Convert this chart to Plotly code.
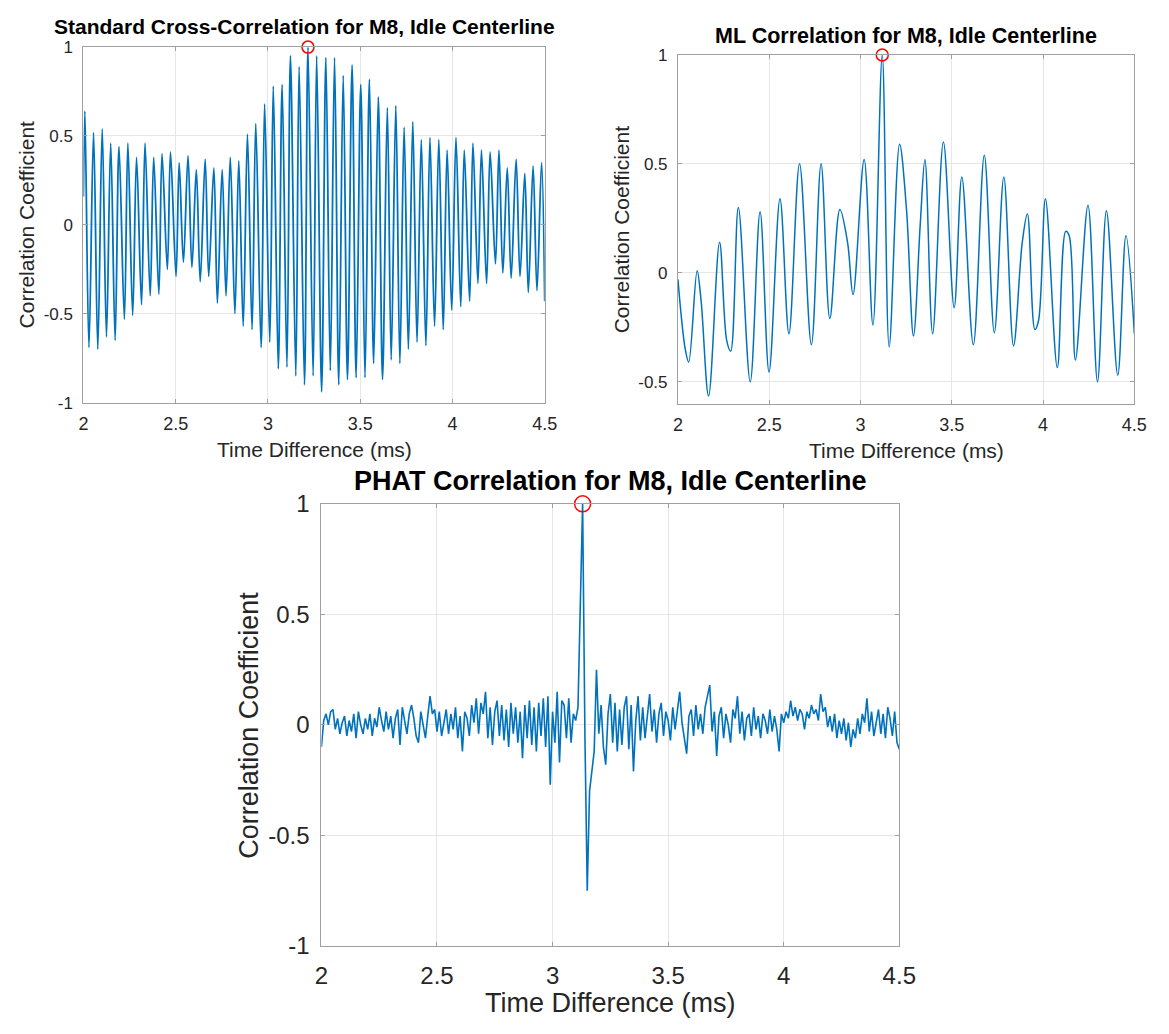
import plotly.graph_objects as go

# ---------------- Standard cross-correlation (top left) ----------------
# local maxima of the oscillation, time in ms
xc_peak_t = [2.008, 2.055, 2.102, 2.148, 2.193, 2.241, 2.288, 2.334, 2.381, 2.426,
             2.472, 2.519, 2.567, 2.612, 2.660, 2.707, 2.752, 2.796, 2.842, 2.889,
             2.934, 2.982, 3.029, 3.077, 3.122, 3.169, 3.217, 3.264, 3.314, 3.361,
             3.408, 3.456, 3.503, 3.550, 3.598, 3.647, 3.693, 3.738, 3.785, 3.831,
             3.878, 3.926, 3.971, 4.019, 4.064, 4.111, 4.157, 4.204, 4.252, 4.297,
             4.345, 4.392, 4.437, 4.483]
xc_peak_r = [0.64, 0.52, 0.54, 0.46, 0.44, 0.46, 0.38, 0.46, 0.38, 0.40,
             0.41, 0.35, 0.39, 0.31, 0.37, 0.32, 0.31, 0.38, 0.36, 0.51,
             0.57, 0.68, 0.78, 0.79, 0.95, 0.89, 1.00, 0.95, 0.94, 0.94,
             0.84, 0.90, 0.79, 0.82, 0.72, 0.66, 0.67, 0.55, 0.58, 0.48,
             0.49, 0.48, 0.42, 0.49, 0.42, 0.46, 0.42, 0.41, 0.42, 0.32,
             0.37, 0.29, 0.33, 0.35]
# local minima
xc_trough_t = [2.030, 2.078, 2.125, 2.172, 2.222, 2.267, 2.315, 2.362, 2.409, 2.455,
               2.502, 2.542, 2.588, 2.633, 2.679, 2.726, 2.773, 2.821, 2.866, 2.914,
               2.963, 3.010, 3.056, 3.103, 3.151, 3.198, 3.245, 3.291, 3.338, 3.384,
               3.431, 3.478, 3.526, 3.573, 3.621, 3.668, 3.715, 3.761, 3.808, 3.856,
               3.903, 3.950, 3.996, 4.045, 4.093, 4.138, 4.185, 4.233, 4.273, 4.318,
               4.366, 4.411, 4.458]
xc_trough_r = [-0.69, -0.70, -0.63, -0.65, -0.53, -0.51, -0.45, -0.40, -0.39, -0.25,
               -0.29, -0.21, -0.24, -0.32, -0.29, -0.44, -0.40, -0.50, -0.57, -0.59,
               -0.69, -0.66, -0.81, -0.80, -0.85, -0.90, -0.85, -0.94, -0.82, -0.90,
               -0.87, -0.86, -0.86, -0.78, -0.87, -0.76, -0.78, -0.70, -0.66, -0.68,
               -0.57, -0.59, -0.48, -0.46, -0.43, -0.33, -0.33, -0.22, -0.27, -0.30,
               -0.29, -0.38, -0.37]
# values at the window edges
xc_edge_t = [2.000, 4.500]
xc_edge_r = [0.16, -0.43]

# ---------------- ML correlation (top right) ----------------
ml_t = [2.000, 2.040, 2.059, 2.105, 2.127, 2.168, 2.228, 2.267, 2.289, 2.331,
        2.396, 2.450, 2.499, 2.559, 2.608, 2.666, 2.731, 2.784, 2.832, 2.887,
        2.929, 2.959, 3.020, 3.068, 3.119, 3.157, 3.214, 3.252, 3.290, 3.327,
        3.353, 3.395, 3.454, 3.513, 3.555, 3.618, 3.678, 3.733, 3.785, 3.838,
        3.886, 3.914, 3.955, 3.975, 4.013, 4.078, 4.124, 4.143, 4.177, 4.246,
        4.298, 4.347, 4.409, 4.454, 4.500]
ml_r = [-0.03, -0.35, -0.41, 0.01, -0.13, -0.565, 0.14, -0.31, -0.36, 0.30,
        -0.50, 0.28, -0.455, 0.34, -0.28, 0.50, -0.33, 0.50, -0.21, 0.29,
        0.14, -0.10, 0.52, -0.24, 1.00, -0.34, 0.59, 0.29, -0.29, 0.22,
        0.52, -0.28, 0.60, -0.16, 0.44, -0.33, 0.54, -0.275, 0.44, -0.335,
        0.14, 0.27, -0.26, -0.22, 0.34, -0.435, 0.19, 0.17, -0.40, 0.31,
        -0.50, 0.285, -0.47, 0.17, -0.28]

# ---------------- PHAT correlation (bottom) ----------------
# one value every 0.01 ms from 2.00 to 4.50 ms
phat_t0 = 2.0
phat_dt = 0.01
phat_r = [
    -0.10, 0.02, 0.05, 0.00, 0.06, 0.07, -0.02, 0.03, -0.04, 0.01,
    0.04, -0.05, 0.02, -0.03, 0.05, -0.06, 0.06, 0.00, -0.04, 0.03,
    -0.02, 0.05, -0.05, 0.03, -0.01, 0.08, 0.02, -0.03, 0.06, -0.02,
    0.04, -0.06, 0.03, 0.07, -0.09, 0.08, 0.02, -0.04, 0.05, 0.09,
    0.03, -0.05, -0.08, 0.06, 0.00, -0.06, 0.04, 0.13, 0.05, 0.07,
    -0.03, 0.06, -0.05, 0.02, 0.07, -0.04, 0.05, -0.02, 0.08, -0.06,
    0.04, -0.12, 0.06, 0.03, -0.05, 0.09, 0.01, 0.12, -0.04, 0.10,
    0.05, 0.15, -0.06, 0.08, -0.09, 0.06, 0.11, -0.05, 0.09, -0.07,
    0.07, -0.10, 0.10, -0.04, 0.08, -0.08, 0.06, -0.15, 0.09, -0.06,
    0.11, -0.09, 0.08, -0.12, 0.10, -0.05, 0.12, -0.10, 0.13, -0.27,
    0.06, -0.08, 0.15, -0.17, 0.11, 0.09, -0.06, 0.12, -0.08, 0.05,
    0.02, 0.08, 0.55, 1.00, -0.05, -0.75, -0.30, -0.22, -0.12, 0.25,
    -0.04, 0.09, -0.10, -0.18, 0.05, 0.14, -0.08, 0.10, -0.12, 0.07,
    -0.09, 0.08, 0.13, -0.11, 0.09, -0.21, 0.02, 0.13, -0.07, 0.08,
    -0.06, 0.04, 0.14, -0.03, 0.07, -0.08, 0.05, 0.10, -0.05, 0.06,
    0.02, -0.07, 0.08, -0.02, 0.06, 0.15, 0.01, -0.06, -0.13, 0.04,
    0.07, -0.05, 0.09, -0.02, 0.05, -0.04, 0.08, 0.13, 0.18, -0.03,
    0.06, -0.14, 0.04, 0.08, -0.06, 0.05, 0.00, -0.08, 0.07, 0.03,
    0.13, -0.04, 0.06, -0.07, 0.03, 0.05, -0.05, 0.08, -0.02, 0.04,
    -0.06, 0.05, 0.02, -0.04, 0.07, -0.03, 0.04, -0.02, -0.12, 0.05,
    0.01, 0.06, 0.03, 0.11, 0.04, 0.08, 0.02, 0.07, 0.05, -0.02,
    0.06, 0.03, 0.09, 0.05, 0.07, 0.02, 0.14, 0.06, 0.08, -0.01,
    0.04, -0.03, 0.05, -0.06, 0.02, -0.04, 0.03, -0.07, 0.01, -0.10,
    -0.02, -0.06, 0.03, -0.04, 0.05, 0.01, 0.12, -0.03, 0.06, -0.05,
    0.02, 0.07, -0.04, 0.05, -0.06, 0.08, 0.03, -0.05, 0.06, -0.08,
    -0.11,
]

x_tick_vals = [2, 2.5, 3, 3.5, 4, 4.5]
x_tick_text = ["2", "2.5", "3", "3.5", "4", "4.5"]
y_tick_vals = [-1, -0.5, 0, 0.5, 1]
y_tick_text = ["-1", "-0.5", "0", "0.5", "1"]
ml_y_tick_vals = [-0.5, 0, 0.5, 1]
ml_y_tick_text = ["-0.5", "0", "0.5", "1"]

titles = ["Standard Cross-Correlation for M8, Idle Centerline",
          "ML Correlation for M8, Idle Centerline",
          "PHAT Correlation for M8, Idle Centerline"]
x_label = "Time Difference (ms)"
y_label = "Correlation Coefficient"

# ---------------- assemble series ----------------
xc_pts = sorted(zip(xc_peak_t + xc_trough_t + xc_edge_t,
                    xc_peak_r + xc_trough_r + xc_edge_r))
xc_t = [p[0] for p in xc_pts]
xc_r = [p[1] for p in xc_pts]
phat_t = [round(phat_t0 + phat_dt * i, 3) for i in range(len(phat_r))]


def peak_of(ts, rs):
    i = max(range(len(rs)), key=lambda k: rs[k])
    return ts[i], rs[i]


LINE = "#0072BD"
FONT = "Liberation Sans, Arial, Helvetica, sans-serif"
W, H = 1169, 1034

fig = go.Figure()

fig.add_trace(go.Scatter(x=xc_t, y=xc_r, mode="lines", xaxis="x", yaxis="y",
                         line=dict(color=LINE, width=1.8, shape="spline", smoothing=1.0)))
fig.add_trace(go.Scatter(x=ml_t, y=ml_r, mode="lines", xaxis="x2", yaxis="y2",
                         line=dict(color=LINE, width=1.5, shape="spline", smoothing=1.0)))
fig.add_trace(go.Scatter(x=phat_t, y=phat_r, mode="lines", xaxis="x3", yaxis="y3",
                         line=dict(color=LINE, width=1.6)))

# red circles at the maximum of each correlation
for (ts, rs), ax, size in [((xc_t, xc_r), "", 12), ((ml_t, ml_r), "2", 12),
                           ((phat_t, phat_r), "3", 16)]:
    pt, pr = peak_of(ts, rs)
    fig.add_trace(go.Scatter(x=[pt], y=[pr], mode="markers", cliponaxis=False,
                             xaxis="x" + ax, yaxis="y" + ax,
                             marker=dict(symbol="circle-open", size=size, color="#FF0000",
                                         line=dict(width=1.5, color="#FF0000"))))


def px_x(a, b):
    return [a / W, b / W]


def px_y(top, bottom):
    return [1 - bottom / H, 1 - top / H]


def axis(domain, anchor, vals, text, rng, fsize, standoff):
    return dict(domain=domain, anchor=anchor, range=rng, tickvals=vals, ticktext=text,
                showgrid=True, gridcolor="#e6e6e6", gridwidth=1, zeroline=False,
                showline=True, linecolor="#a0a0a0", linewidth=1, mirror="ticks",
                ticks="inside", ticklen=4, tickwidth=1, tickcolor="#a0a0a0",
                ticklabelstandoff=standoff,
                tickfont=dict(family=FONT, size=fsize, color="#262626"), fixedrange=True)


d1x, d1y = px_x(78, 549), px_y(34, 399)
d2x, d2y = px_x(685, 1151), px_y(42, 400)
d3x, d3y = px_x(321, 911), px_y(503, 957)

fig.update_layout(
    width=W, height=H, margin=dict(l=0, r=0, t=0, b=0),
    paper_bgcolor="white", plot_bgcolor="white", showlegend=False,
    xaxis=axis(d1x, "y", x_tick_vals, x_tick_text, [2, 4.5], 18, 5),
    yaxis=axis(d1y, "x", y_tick_vals, y_tick_text, [-1, 1], 17, 6),
    xaxis2=axis(d2x, "y2", x_tick_vals, x_tick_text, [2, 4.5], 18, 5),
    yaxis2=axis(d2y, "x2", ml_y_tick_vals, ml_y_tick_text, [-0.6, 1], 17, 6),
    xaxis3=axis(d3x, "y3", x_tick_vals, x_tick_text, [2, 4.5], 24, 8),
    yaxis3=axis(d3y, "x3", y_tick_vals, y_tick_text, [-1, 1], 24, 6),
)


def label(text, x, y, size, bold=False, angle=0):
    fig.add_annotation(text=f"<b>{text}</b>" if bold else text,
                       x=x / W, y=1 - y / H, xref="paper", yref="paper",
                       xanchor="center", yanchor="middle", showarrow=False,
                       textangle=angle,
                       font=dict(family=FONT, size=size, color="#000000" if bold else "#262626"))


# titles
label(titles[0], 304, 12.5, 21, bold=True)
label(titles[1], 918, 23, 21.5, bold=True)
label(titles[2], 616, 480, 27, bold=True)
# axis labels
label(x_label, 313.5, 447, 21)
label(y_label, 20, 216.5, 21, angle=-90)
label(x_label, 918, 448, 21)
label(y_label, 627, 221, 21, angle=-90)
label(x_label, 616, 1016, 27)
label(y_label, 247, 730, 27, angle=-90)

fig.write_html("out.html", config={"displayModeBar": False})
